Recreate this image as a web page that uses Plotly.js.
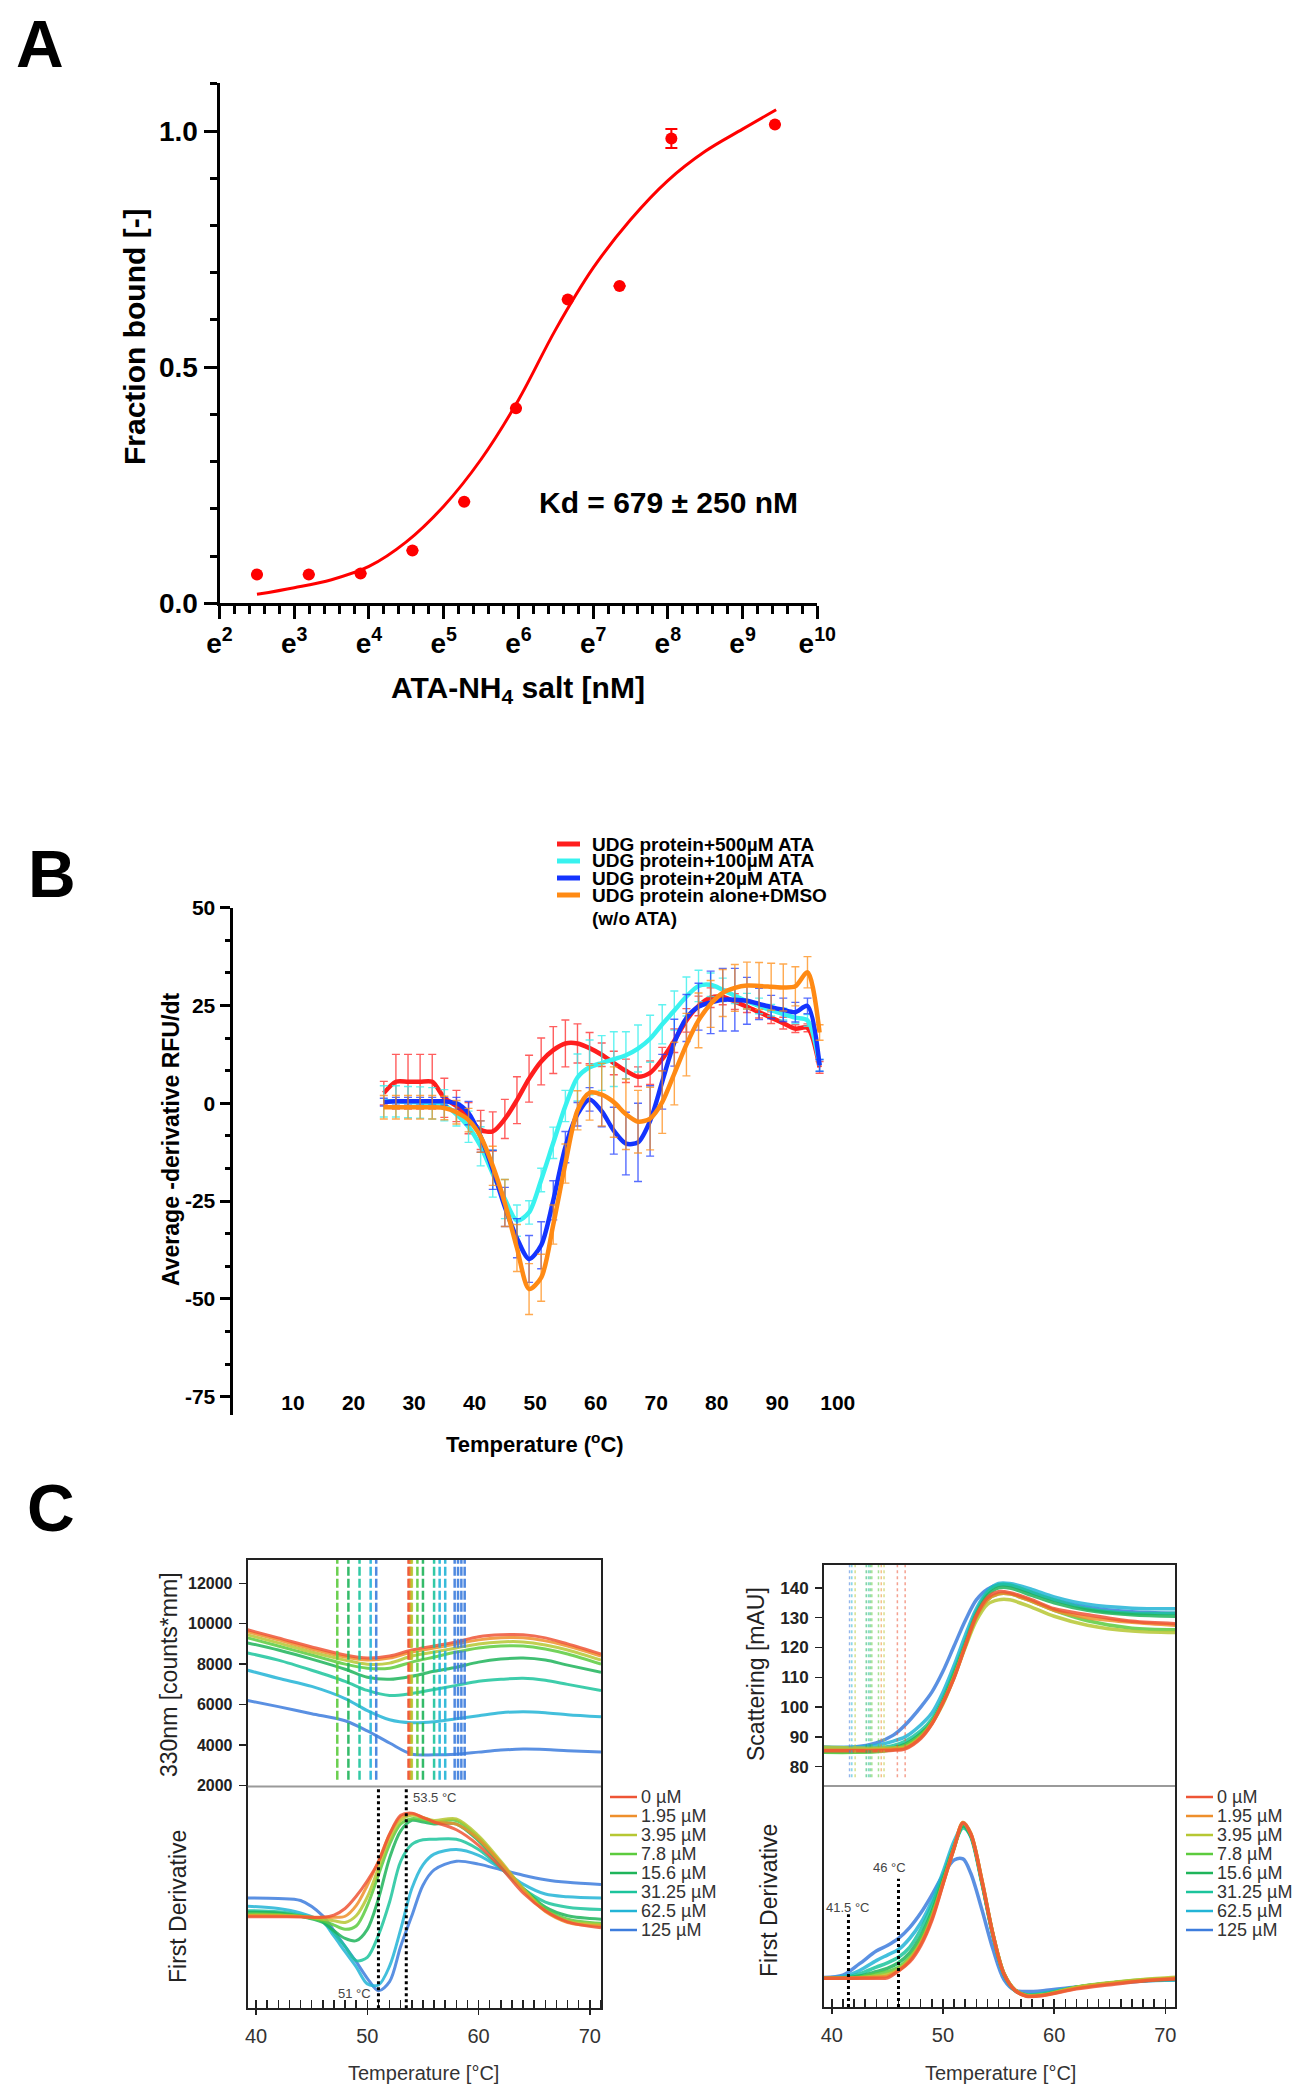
<!DOCTYPE html>
<html>
<head>
<meta charset="utf-8">
<script src="https://cdn.plot.ly/plotly-3.0.1.min.js"></script>
<style>
  html, body { margin: 0; padding: 0; background: #fff; }
  #fig { width: 1305px; height: 2100px; }
</style>
</head>
<body>
<div id="fig"></div>
<script>
// ====== Panel A: MST binding curve ======
var mstConc = [12.2, 24.4, 48.8, 97.7, 195.3, 390.6, 781.3, 1562.5, 3125, 12500];
var mstFrac = [0.061, 0.061, 0.063, 0.112, 0.215, 0.413, 0.643, 0.672, 0.984, 1.014];
var mstErr  = [0, 0, 0, 0, 0, 0, 0, 0, 0.02, 0];
var fitConc = [12.2, 20.1, 33.1, 54.6, 90, 148, 245, 403, 665, 1097, 1808, 2981, 4915, 8103, 12700];
var fitFrac = [0.019, 0.033, 0.05, 0.078, 0.13, 0.205, 0.305, 0.43, 0.58, 0.71, 0.812, 0.895, 0.957, 1.004, 1.045];
var expTicks = [2, 3, 4, 5, 6, 7, 8, 9, 10];

// ====== Panel B: DSF -dF/dT ======
var dsfTemp = [25, 27, 29, 31, 33, 35, 37, 39, 41, 43, 45, 47, 49, 51, 53, 55, 57, 59, 61, 63,
               65, 67, 69, 71, 73, 75, 77, 79, 81, 83, 85, 87, 89, 91, 93, 95, 97];
var dsf500 = [2.6, 5.5, 5.5, 5.5, 5.5, 1.4, -0.7, -3.8, -6.8, -7.2, -4.0, 0.8, 6.3, 10.7, 13.6, 15.3, 15.3, 14.1, 12.4, 10.3,
              8.3, 6.8, 7.8, 11.3, 16.0, 21.2, 24.9, 27.0, 27.2, 26.0, 24.7, 23.3, 21.9, 20.5, 19.1, 19.3, 9.2];
var err500 = [3, 7, 7, 7, 7, 5, 4, 4, 5, 5, 5, 6, 6, 6, 6, 6, 5, 4, 3, 3,
              3, 2.5, 3, 3, 3, 3, 2.5, 2.5, 2, 2, 1.5, 1.5, 1.5, 1.5, 1, 1, 1.5];
var dsf100 = [0.5, 0.5, 0.3, 0.2, 0, -0.5, -2.8, -6, -11, -18, -24.5, -30, -27.9, -19.6, -10.1, -0.7, 6.6, 9.2, 10.3, 11.3,
              12.3, 14, 16.5, 20.2, 23.7, 27.3, 30, 30.3, 29, 27.5, 26.1, 24.9, 23.8, 22.8, 21.9, 21.2, 9.7];
var err100 = [4, 4, 4, 4, 4, 4, 3, 4, 5, 6, 5, 4, 3, 3, 4, 4, 6, 7, 7, 7,
              6, 6, 6, 5, 5, 5, 4, 3, 3, 2, 2, 2, 1.5, 1.5, 1.5, 1.5, 1.5];
var dsf20 = [0.3, 0.5, 0.5, 0.5, 0.5, 0.5, 0, -2.5, -8.5, -17, -26.5, -34.5, -39.8, -36.3, -24.8, -11.2, -2.8, 1, -2, -7,
             -10.3, -10, -4.5, 5.5, 15.5, 21.8, 24.7, 25.8, 26.5, 26.5, 26.2, 25.4, 24.6, 23.9, 23.3, 24.9, 9.7];
var err20 = [1, 1, 1, 1, 1, 1, 1.5, 3, 4, 5, 5, 5, 6, 6, 5, 4, 3, 3, 4, 6,
             8, 10, 9, 7, 6, 6, 6, 8, 8, 8, 6, 4, 3, 3, 2.5, 2, 1.5];
var dsfDmso = [-1, -1, -1, -1, -1, -1.2, -2.3, -4.3, -8.5, -16, -25.5, -37, -47.5, -44.6, -31, -15.4, -1.8, 2.7, 2.2, 0.3,
               -2.8, -4.7, -3.9, 0.3, 7.6, 15, 21.2, 25.4, 28.2, 29.5, 30.1, 30, 29.8, 29.6, 29.9, 33.5, 18.1];
var errDmso = [3, 3, 3, 3, 3, 3, 3, 3, 4, 5, 6, 6, 6.5, 6, 5, 5, 5, 7, 8, 9,
               9, 8, 8, 8, 8, 8, 7, 6, 6, 6, 6, 6, 6, 6, 5, 4, 2];
var dsfNames = ['UDG protein+500µM ATA', 'UDG protein+100µM ATA', 'UDG protein+20µM ATA', 'UDG protein alone+DMSO'];
var dsfNote = '(w/o ATA)';
var dsfColors = ['#ff1e1e', '#38f2ef', '#1434ff', '#ff8a14'];
var dsfErrColors = ['rgba(255,40,40,0.75)', 'rgba(56,239,236,0.8)', 'rgba(30,60,255,0.75)', 'rgba(255,140,20,0.75)'];
var dsfTicks = [10, 20, 30, 40, 50, 60, 70, 80, 90, 100];
var dsfYTicks = [-75, -50, -25, 0, 25, 50];

// ====== Panel C: nanoDSF ======
var concLabels = ['0 µM', '1.95 µM', '3.95 µM', '7.8 µM', '15.6 µM', '31.25 µM', '62.5 µM', '125 µM'];
var concColors = ['#ee5536', '#ee8f2c', '#b6c733', '#5ccb3e', '#1fb45a', '#1cc49c', '#22b4d6', '#3d7ddd'];

// 330 nm fluorescence (left, top)
var fluoTemp = [39.25, 42, 45, 48, 50, 52, 54, 56, 58, 60, 62, 64, 66, 68, 71];
var fluo0    = [9700, 9300, 8850, 8450, 8300, 8400, 8700, 8900, 9100, 9350, 9450, 9450, 9300, 9000, 8500];
var fluo195  = [9600, 9200, 8750, 8350, 8200, 8300, 8600, 8800, 9000, 9200, 9300, 9300, 9150, 8900, 8400];
var fluo395  = [9450, 9050, 8600, 8200, 8000, 8050, 8400, 8600, 8800, 9000, 9100, 9100, 8950, 8700, 8200];
var fluo78   = [9300, 8900, 8450, 8000, 7800, 7800, 8100, 8350, 8600, 8800, 8900, 8900, 8750, 8500, 8000];
var fluo156  = [9050, 8700, 8250, 7750, 7350, 7250, 7400, 7650, 7850, 8100, 8250, 8300, 8200, 7950, 7600];
var fluo3125 = [8550, 8200, 7700, 7150, 6700, 6450, 6550, 6750, 6950, 7150, 7250, 7300, 7200, 7000, 6700];
var fluo625  = [7700, 7300, 6900, 6300, 5700, 5250, 5100, 5150, 5300, 5450, 5600, 5650, 5600, 5500, 5400];
var fluo125  = [6200, 5900, 5550, 5200, 4700, 4100, 3550, 3520, 3550, 3650, 3750, 3800, 3780, 3720, 3650];

// 330 nm first derivative (left, bottom)
var derLTemp = [39.25, 42, 44, 46, 47, 48, 49, 50, 51, 52, 53, 54, 55, 56, 58, 60, 62, 64, 66, 68, 71];
var derL0    = [41.3, 41.3, 41.2, 41.0, 42.0, 45.0, 50.5, 57.5, 66.0, 78.5, 87.0, 88.0, 86.0, 84.0, 80.5, 73.5, 63.5, 52.0, 44.0, 39.0, 36.3];
var derL195  = [41.7, 41.6, 41.4, 41.0, 41.0, 41.5, 46.3, 55.5, 66.3, 78.5, 86.2, 87.7, 86.0, 84.0, 83.0, 76.2, 65.5, 53.2, 43.6, 38.7, 37.1];
var derL395  = [42.0, 42.0, 41.5, 40.2, 39.5, 38.7, 41.7, 50.2, 63.2, 76.2, 84.7, 87.0, 86.0, 84.7, 85.4, 77.8, 66.3, 54.0, 44.0, 39.4, 37.7];
var derL78   = [42.5, 42.3, 41.5, 39.4, 37.5, 35.6, 37.1, 46.3, 60.1, 73.9, 83.1, 85.5, 85.0, 83.9, 84.7, 77.0, 65.5, 54.0, 44.8, 40.2, 38.3];
var derL156  = [43.3, 43.0, 41.5, 38.7, 35.0, 31.5, 30.5, 35.6, 49.4, 67.8, 80.0, 84.7, 84.0, 83.1, 83.1, 75.5, 64.7, 54.0, 45.6, 41.7, 40.2];
var derL3125 = [44.0, 43.5, 42.0, 39.4, 34.0, 27.9, 21.5, 23.0, 33.0, 47.9, 66.3, 73.9, 76.0, 76.2, 76.2, 71.6, 63.2, 54.0, 47.9, 45.6, 44.5];
var derL625  = [46.0, 45.0, 43.0, 39.0, 32.5, 25.5, 18.7, 11.0, 10.5, 19.0, 35.6, 54.0, 64.7, 69.5, 71.6, 69.0, 63.0, 56.0, 51.5, 50.3, 49.7];
var derL125  = [49.7, 49.5, 48.6, 41.7, 35.0, 27.9, 21.0, 13.5, 7.9, 12.0, 28.0, 41.7, 55.5, 62.4, 66.3, 65.0, 62.5, 60.0, 58.0, 56.8, 55.8];

// scattering (right, top)
var scatTemp = [39.3, 42, 44, 45.5, 46.6, 48, 49, 50, 51, 52, 53, 54, 55, 56, 58, 60, 63, 67, 70.9];
var scat0    = [85.3, 85.3, 85.3, 85.5, 86.0, 89.5, 94.3, 101.5, 109.8, 120.5, 130.7, 136.7, 138.7, 138.4, 136.0, 133.0, 131.0, 128.8, 128.0];
var scat195  = [85.5, 85.5, 85.6, 85.8, 86.2, 89.8, 94.5, 101.5, 110.0, 120.5, 130.5, 136.0, 138.0, 138.0, 135.5, 132.5, 130.0, 128.5, 127.5];
var scat395  = [86.5, 86.3, 86.2, 86.3, 86.6, 90.0, 94.5, 101.0, 110.0, 120.0, 129.0, 134.5, 136.0, 136.0, 133.5, 130.5, 127.5, 125.5, 125.0];
var scat78   = [84.8, 84.8, 85.0, 85.7, 87.0, 90.5, 95.0, 101.5, 110.5, 120.5, 130.0, 136.0, 138.0, 138.0, 135.5, 132.5, 129.0, 126.5, 126.0];
var scat156  = [85.0, 85.0, 85.5, 86.3, 87.5, 91.0, 95.0, 102.0, 111.0, 121.0, 131.0, 137.5, 140.0, 140.0, 137.5, 135.0, 132.5, 131.0, 130.5];
var scat3125 = [85.5, 85.5, 86.2, 87.0, 88.5, 92.0, 96.0, 103.0, 112.0, 122.0, 132.0, 138.5, 141.0, 141.0, 138.5, 136.0, 133.0, 131.5, 131.5];
var scat625  = [86.5, 86.5, 87.2, 88.5, 90.0, 94.0, 98.0, 105.0, 114.0, 124.0, 133.0, 139.0, 141.5, 141.5, 139.5, 137.0, 134.5, 133.2, 133.0];
var scat125  = [86.5, 86.6, 88.0, 90.5, 94.0, 100.0, 105.0, 112.0, 120.5, 129.0, 136.0, 139.6, 141.0, 140.8, 138.4, 136.0, 133.5, 132.0, 131.5];

// scattering first derivative (right, bottom)
var derRTemp = [39.3, 41, 42.5, 44, 45, 46, 47, 48, 49, 50, 51, 51.8, 52.5, 53.5, 54.5, 55.5, 56.5, 57.5, 59, 62, 65, 68, 70.9];
var derR0    = [13, 13, 13, 13, 13.2, 16.3, 20.4, 27.8, 39.2, 55.6, 71.9, 83.3, 78.4, 57.2, 32.7, 14.7, 7.4, 4.9, 5.2, 8.2, 10.1, 11.8, 12.7];
var derR195  = [13, 13, 13.2, 13.5, 14, 16.5, 21, 28.5, 40, 55.8, 72, 83.5, 78.5, 57.5, 33, 15, 7.5, 5, 5.3, 8.5, 10.5, 12, 13];
var derR395  = [13, 13, 13.2, 14, 14.8, 17, 21.5, 29, 40.5, 56, 72, 83.5, 78.5, 57.5, 33, 15, 7.6, 5.2, 5.5, 9, 11, 12.5, 13.5];
var derR78   = [13, 13, 13.5, 15, 16, 18, 22.5, 30, 41.5, 56.5, 72, 83, 78, 57, 32.8, 15, 7.5, 5.2, 5.5, 8.8, 10.8, 12.3, 13];
var derR156  = [13, 13.1, 14, 16, 17.5, 20, 24.5, 32, 43, 57.5, 72.5, 82, 77.5, 56.5, 32.5, 14.8, 7.5, 5.3, 5.6, 8.8, 10.8, 12, 12.8];
var derR3125 = [13, 13.3, 15, 18, 20, 22.5, 27, 35, 46, 59, 73, 81, 77.5, 56.5, 32.5, 14.5, 7.5, 5.5, 6, 9, 10.8, 12, 12.5];
var derR625  = [13.2, 13.8, 16.5, 21, 23.5, 26, 31, 38, 48, 61, 75, 82, 77, 56, 32, 14, 7.3, 5.5, 6.2, 9, 10.8, 11.8, 12.2];
var derR125  = [13.4, 14.4, 19.6, 25.3, 27.8, 31, 35.9, 42.5, 50.7, 59.6, 66.5, 67, 60.5, 44.1, 26.1, 12.3, 7.4, 7, 7.4, 9, 10.6, 11.8, 12.3];

// melting / onset markers
var tmFluo     = [47.3, 48.3, 49.3, 50.3, 50.8, 53.7, 53.8, 53.9, 54.0, 54.5, 55.0, 56.0, 56.5, 57.0, 57.85, 58.15, 58.45, 58.75];
var tmFluoConc = [3, 4, 5, 6, 7, 0, 0, 1, 2, 3, 4, 5, 6, 6, 7, 7, 7, 7];
var tmScat     = [41.6, 41.8, 42.1, 43.1, 43.3, 43.45, 43.6, 44.2, 44.45, 44.7, 45.9, 46.6];
var tmScatConc = [7, 6, 2, 4, 5, 4, 3, 3, 1, 2, 0, 0];
var tmLeftMarks = [51, 53.5];
var tmLeftText  = ['51 °C', '53.5 °C'];
var tmRightMarks = [41.5, 46];
var tmRightTop   = [42, 58];
var tmRightText  = ['41.5 °C', '46 °C'];

(function () {
  var W = 1305, H = 2100;
  var FONT = 'Arial, "Liberation Sans", Helvetica, sans-serif';
  function fx(p) { return p / W; }
  function fy(p) { return 1 - p / H; }

  // ====== layout boxes (pixels) ======
  var boxA = { l: 219.5, r: 817.3, t: 83.3, b: 603.3 };
  var boxB = { l: 232.5, r: 837.8, t: 907.7, b: 1415 };
  var boxCL = { l: 247.7, r: 601, t: 1560, m: 1786.5, b: 2008.3 };
  var boxCR = { l: 824, r: 1175, t: 1565, m: 1786, b: 2007 };
  var rangeB = [-79.7, 50.01];

  var traces = [];
  var shapes = [];
  var annots = [];

  function txt(text, x, y, opt) {
    opt = opt || {};
    annots.push({
      text: text, x: fx(x), y: fy(y), xref: 'paper', yref: 'paper', showarrow: false,
      xanchor: opt.xanchor || 'center', yanchor: opt.yanchor || 'middle',
      textangle: opt.angle || 0,
      font: { family: FONT, size: opt.size || 20, color: opt.color || '#000', weight: opt.bold ? 'bold' : 'normal' }
    });
  }
  function paperLine(x0, x1, y, color, width) {
    shapes.push({ type: 'line', xref: 'paper', yref: 'paper', x0: fx(x0), x1: fx(x1), y0: fy(y), y1: fy(y),
      line: { color: color, width: width } });
  }

  // ====== Panel A ======
  traces.push({
    x: fitConc, y: fitFrac, type: 'scatter', mode: 'lines', xaxis: 'x', yaxis: 'y',
    line: { color: '#ff0000', width: 3, shape: 'spline', smoothing: 1 }, hoverinfo: 'skip'
  });
  traces.push({
    x: mstConc, y: mstFrac, type: 'scatter', mode: 'markers', xaxis: 'x', yaxis: 'y',
    marker: { color: '#ff0000', size: 12 },
    error_y: { type: 'data', array: mstErr, color: '#ff0000', thickness: 2, width: 6 }
  });
  var minorA = [];
  for (var j = 0; j <= 40; j++) if (j % 5 !== 0) minorA.push(Math.exp(2 + j * 0.2));

  // ====== Panel B ======
  var dsfSeries = [dsf500, dsf100, dsf20, dsfDmso];
  var dsfErrs = [err500, err100, err20, errDmso];
  for (var s = 0; s < dsfSeries.length; s++) {
    traces.push({
      x: dsfTemp, y: dsfSeries[s], type: 'scatter', mode: 'lines', xaxis: 'x2', yaxis: 'y2',
      name: dsfNames[s],
      line: { color: dsfColors[s], width: 4.5, shape: 'spline', smoothing: 0.8 },
      error_y: { type: 'data', array: dsfErrs[s], color: dsfErrColors[s], thickness: 1.4, width: 4 }
    });
  }
  var zeroPos = fy(boxB.b) + (0 - rangeB[0]) / (rangeB[1] - rangeB[0]) * (fy(boxB.t) - fy(boxB.b));

  // B legend (drawn by hand, tight spacing like the original)
  for (var k = 0; k < dsfNames.length; k++) {
    var ly = 844 + k * 17;
    paperLine(557, 580, ly, dsfColors[k], 5);
    txt(dsfNames[k], 590, ly, { xanchor: 'left', size: 19, bold: true });
  }
  txt(dsfNote, 590, 918, { xanchor: 'left', size: 19, bold: true });

  // ====== Panel C ======
  function addSet(xs, sets, xa, ya, width) {
    for (var i = sets.length - 1; i >= 0; i--) {
      traces.push({
        x: xs, y: sets[i], type: 'scatter', mode: 'lines', xaxis: xa, yaxis: ya,
        name: concLabels[i], opacity: 0.85,
        line: { color: concColors[i], width: width, shape: 'spline', smoothing: 0.9 }
      });
    }
  }
  addSet(fluoTemp, [fluo0, fluo195, fluo395, fluo78, fluo156, fluo3125, fluo625, fluo125], 'x5', 'y5', 3);
  addSet(derLTemp, [derL0, derL195, derL395, derL78, derL156, derL3125, derL625, derL125], 'x4', 'y4', 3);
  addSet(scatTemp, [scat0, scat195, scat395, scat78, scat156, scat3125, scat625, scat125], 'x7', 'y7', 3.5);
  addSet(derRTemp, [derR0, derR195, derR395, derR78, derR156, derR3125, derR625, derR125], 'x6', 'y6', 3.5);

  // Tm markers in the top panels
  tmFluo.forEach(function (t, i) {
    shapes.push({ type: 'line', xref: 'x5', yref: 'y5 domain', x0: t, x1: t, y0: 0.03, y1: 1,
      opacity: 0.9, line: { color: concColors[tmFluoConc[i]], width: 2.5, dash: '9px,3px' } });
  });
  tmScat.forEach(function (t, i) {
    shapes.push({ type: 'line', xref: 'x7', yref: 'y7 domain', x0: t, x1: t, y0: 0.04, y1: 1,
      opacity: 0.55, line: { color: concColors[tmScatConc[i]], width: 1.5, dash: 'dot' } });
  });
  // dotted reference lines in the derivative panels
  tmLeftMarks.forEach(function (t) {
    shapes.push({ type: 'line', xref: 'x4', yref: 'y4 domain', x0: t, x1: t, y0: 0, y1: 1,
      line: { color: '#000', width: 3, dash: 'dot' } });
  });
  tmRightMarks.forEach(function (t, i) {
    shapes.push({ type: 'line', xref: 'x6', yref: 'y6', x0: t, x1: t, y0: 0, y1: tmRightTop[i],
      line: { color: '#000', width: 3, dash: 'dot' } });
  });
  // grey divider between stacked panels
  ['x4', 'x6'].forEach(function (xa, i) {
    shapes.push({ type: 'line', xref: xa + ' domain', yref: (i ? 'y6' : 'y4') + ' domain',
      x0: 0, x1: 1, y0: 1, y1: 1, line: { color: '#9a9a9a', width: 2 } });
  });

  // C legends
  for (var c = 0; c < concLabels.length; c++) {
    var cy = 1797 + c * 19;
    paperLine(610, 637, cy, concColors[c], 2.5);
    txt(concLabels[c], 639, cy, { xanchor: 'left', size: 18, color: '#333' });
    paperLine(1186, 1213, cy, concColors[c], 2.5);
    txt(concLabels[c], 1215, cy, { xanchor: 'left', size: 18, color: '#333' });
  }
  txt(tmLeftText[0], 373, 1993, { xanchor: 'right', size: 13, color: '#444' });
  txt(tmLeftText[1], 411, 1797, { xanchor: 'left', size: 13, color: '#444' });
  txt(tmRightText[0], 848, 1907, { size: 13, color: '#444' });
  txt(tmRightText[1], 889, 1867, { size: 13, color: '#444' });

  // ====== titles & labels ======
  txt('A', 40, 44, { size: 66, bold: true });
  txt('B', 52, 874, { size: 66, bold: true });
  txt('C', 51, 1508, { size: 66, bold: true });
  txt('Fraction bound [-]', 135, 337, { angle: -90, size: 30, bold: true });
  txt('ATA-NH<sub>4</sub> salt [nM]', 518, 689, { size: 30, bold: true });
  txt('Kd = 679 ± 250 nM', 669, 502, { size: 30, bold: true });
  txt('Average -derivative RFU/dt', 171, 1140, { angle: -90, size: 23, bold: true });
  txt('Temperature (<sup>o</sup>C)', 535, 1443, { size: 22, bold: true });
  txt('330nm [counts*mm]', 169, 1675, { angle: -90, size: 23, color: '#222' });
  txt('First Derivative', 178, 1907, { angle: -90, size: 23, color: '#222' });
  txt('Temperature [°C]', 423, 2073, { size: 20, color: '#333' });
  txt('Scattering [mAU]', 756, 1674, { angle: -90, size: 23, color: '#222' });
  txt('First Derivative', 769, 1901, { angle: -90, size: 23, color: '#222' });
  txt('Temperature [°C]', 1000, 2073, { size: 20, color: '#333' });

  // ====== axes ======
  var noGrid = { showgrid: false, zeroline: false };
  function ax(o) { return Object.assign({}, noGrid, o); }
  var cTickX = {
    tick0: 0, dtick: 10, ticks: 'outside', ticklen: 5, tickwidth: 1.5, tickcolor: '#222',
    showline: true, linecolor: '#222', linewidth: 2, ticklabelstandoff: 4,
    tickfont: { family: FONT, size: 20, color: '#333' },
    minor: { tick0: 0, dtick: 1, ticks: 'inside', ticklen: 8, tickwidth: 1.5, tickcolor: '#222' }
  };

  var layout = {
    width: W, height: H, margin: { l: 0, r: 0, t: 0, b: 0 },
    paper_bgcolor: '#fff', plot_bgcolor: 'rgba(0,0,0,0)',
    showlegend: false, font: { family: FONT, color: '#000' },
    // A
    xaxis: ax({
      domain: [fx(boxA.l), fx(boxA.r)], anchor: 'y', type: 'log',
      range: [2 / Math.LN10 - 1e-4, 10 / Math.LN10 + 1e-4],
      tickmode: 'array', tickvals: expTicks.map(Math.exp),
      ticktext: expTicks.map(function (e) { return 'e<sup>' + e + '</sup>'; }),
      ticks: 'outside', ticklen: 13, tickwidth: 3, tickcolor: '#000',
      showline: true, linewidth: 3, linecolor: '#000',
      tickfont: { family: FONT, size: 28, weight: 'bold', color: '#000' },
      minor: { tickmode: 'array', tickvals: minorA, ticks: 'outside', ticklen: 8, tickwidth: 3, tickcolor: '#000' }
    }),
    yaxis: ax({
      domain: [fy(boxA.b), fy(boxA.t)], anchor: 'x', range: [0, 1.101],
      tickmode: 'array', tickvals: [0, 0.5, 1], ticktext: ['0.0', '0.5', '1.0'],
      ticks: 'outside', ticklen: 13, tickwidth: 3, tickcolor: '#000',
      showline: true, linewidth: 3, linecolor: '#000',
      tickfont: { family: FONT, size: 28, weight: 'bold', color: '#000' },
      minor: { tickmode: 'linear', tick0: 0, dtick: 0.1, ticks: 'outside', ticklen: 7, tickwidth: 3, tickcolor: '#000' }
    }),
    // B
    xaxis2: ax({
      domain: [fx(boxB.l), fx(boxB.r)], anchor: 'free', position: fy(1388), range: [0, 100.01],
      tickmode: 'array', tickvals: dsfTicks, ticks: '', showline: false,
      tickfont: { family: FONT, size: 21, weight: 'bold', color: '#000' }
    }),
    xaxis3: ax({
      domain: [fx(boxB.l), fx(boxB.r)], anchor: 'free', overlaying: 'x2', position: zeroPos, range: [0, 100.01],
      tickmode: 'array', tickvals: dsfTicks, showticklabels: false,
      ticks: 'outside', ticklen: 9, tickwidth: 3, tickcolor: '#000',
      showline: true, linewidth: 3, linecolor: '#000'
    }),
    yaxis2: ax({
      domain: [fy(boxB.b), fy(boxB.t)], anchor: 'x2', range: rangeB,
      tickmode: 'array', tickvals: dsfYTicks, ticktext: dsfYTicks.map(String),
      ticks: 'outside', ticklen: 10, tickwidth: 3, tickcolor: '#000',
      showline: true, linewidth: 3, linecolor: '#000',
      tickfont: { family: FONT, size: 21, weight: 'bold', color: '#000' },
      minor: { tickmode: 'linear', tick0: 0, dtick: 25 / 3, ticks: 'outside', ticklen: 5, tickwidth: 3, tickcolor: '#000' }
    }),
    // C left
    xaxis4: ax(Object.assign({}, cTickX, { domain: [fx(boxCL.l), fx(boxCL.r)], anchor: 'y4', range: [39.25, 71] })),
    yaxis4: ax({
      domain: [fy(boxCL.b), fy(boxCL.m)], anchor: 'x4', range: [0, 100],
      showticklabels: false, ticks: '', showline: true, mirror: true, linecolor: '#222', linewidth: 2
    }),
    xaxis5: ax({
      domain: [fx(boxCL.l), fx(boxCL.r)], anchor: 'y5', side: 'top', range: [39.25, 71],
      showticklabels: false, ticks: '', showline: true, linecolor: '#222', linewidth: 2
    }),
    yaxis5: ax({
      domain: [fy(boxCL.m), fy(boxCL.t)], anchor: 'x5', range: [1950, 13150],
      tick0: 0, dtick: 2000, tickformat: 'd', ticks: 'outside', ticklen: 7, tickwidth: 1.5, tickcolor: '#222',
      showline: true, mirror: true, linecolor: '#222', linewidth: 2, ticklabelstandoff: 3,
      tickfont: { family: FONT, size: 16, weight: 'bold', color: '#222' }
    }),
    // C right
    xaxis6: ax(Object.assign({}, cTickX, { domain: [fx(boxCR.l), fx(boxCR.r)], anchor: 'y6', range: [39.3, 70.87] })),
    yaxis6: ax({
      domain: [fy(boxCR.b), fy(boxCR.m)], anchor: 'x6', range: [0, 100],
      showticklabels: false, ticks: '', showline: true, mirror: true, linecolor: '#222', linewidth: 2
    }),
    xaxis7: ax({
      domain: [fx(boxCR.l), fx(boxCR.r)], anchor: 'y7', side: 'top', range: [39.3, 70.87],
      showticklabels: false, ticks: '', showline: true, linecolor: '#222', linewidth: 2
    }),
    yaxis7: ax({
      domain: [fy(boxCR.m), fy(boxCR.t)], anchor: 'x7', range: [73.5, 147.7],
      tick0: 0, dtick: 10, ticks: 'outside', ticklen: 7, tickwidth: 1.5, tickcolor: '#222',
      showline: true, mirror: true, linecolor: '#222', linewidth: 2, ticklabelstandoff: 3,
      tickfont: { family: FONT, size: 17, weight: 'bold', color: '#222' }
    }),
    shapes: shapes,
    annotations: annots
  };

  Plotly.newPlot('fig', traces, layout, { displayModeBar: false, staticPlot: true });
})();
</script>
</body>
</html>
